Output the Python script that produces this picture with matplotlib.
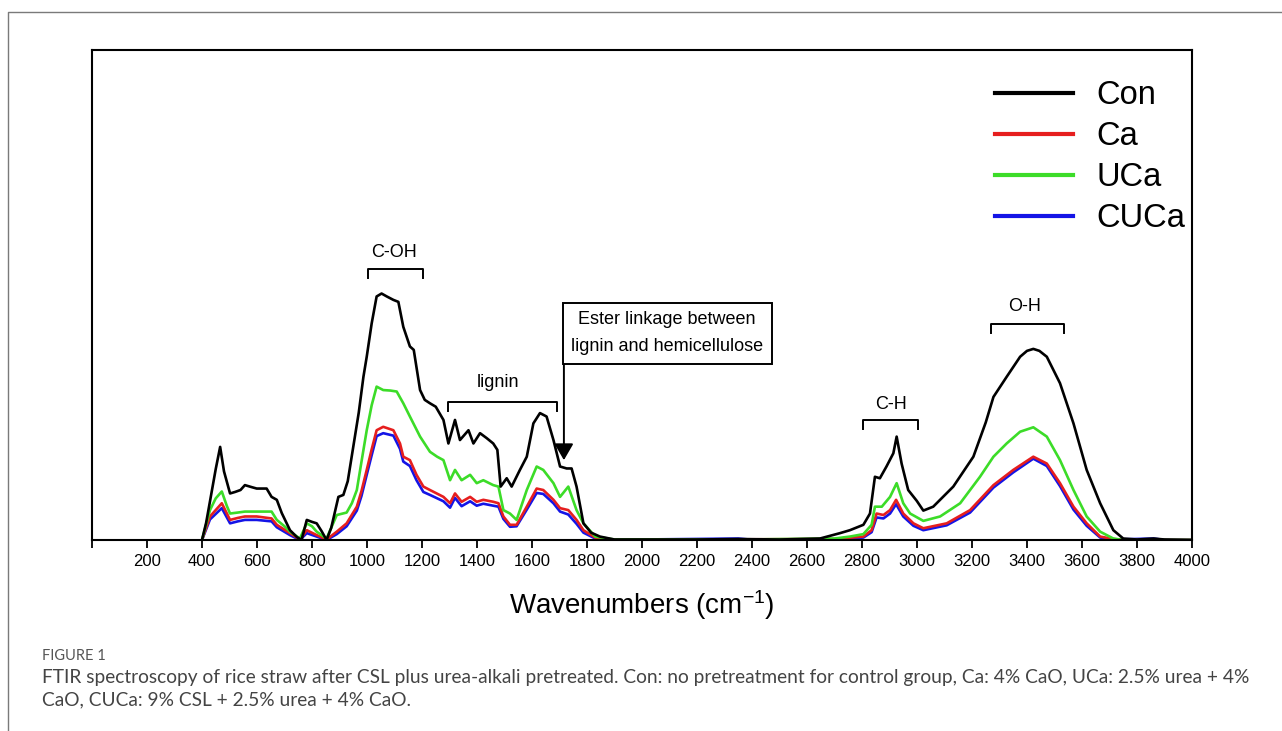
import matplotlib
matplotlib.use('Agg')
import matplotlib.pyplot as plt
from matplotlib.lines import Line2D
from matplotlib.patches import Rectangle

plt.rcParams['font.family'] = ['Liberation Sans', 'DejaVu Sans']
plt.rcParams['mathtext.fontset'] = 'custom'
plt.rcParams['mathtext.rm'] = 'Liberation Sans'
plt.rcParams['mathtext.it'] = 'Liberation Sans:italic'
plt.rcParams['mathtext.bf'] = 'Liberation Sans:bold'

# FTIR spectra (wavenumber, relative absorbance)
con_x = [400, 415, 430, 450, 466, 480, 502, 520, 540, 556, 580, 599, 635, 653, 672, 690, 720, 745, 762,
         781, 800, 817, 835, 853, 870, 896, 914, 930, 950, 970, 987, 999, 1017, 1035, 1053, 1072, 1096,
         1114, 1132, 1156, 1170, 1193, 1210, 1229, 1250, 1278, 1296, 1320, 1338, 1369, 1387, 1411, 1435,
         1459, 1474, 1486, 1508, 1526, 1556, 1581, 1605, 1629, 1653, 1678, 1702, 1726, 1744, 1762, 1787,
         1815, 1847, 1900, 2000, 2200, 2350, 2500, 2647, 2720, 2756, 2805, 2829, 2847, 2865, 2889, 2914,
         2926, 2944, 2968, 2999, 3023, 3059, 3132, 3205, 3250, 3278, 3326, 3375, 3400, 3423, 3445, 3472,
         3520, 3569, 3617, 3666, 3714, 3750, 3800, 3860, 3900, 4000]
con_y = [0, 3.5, 8.2, 14.5, 19.0, 14.0, 9.5, 9.8, 10.2, 11.2, 10.8, 10.5, 10.5, 8.8, 8.2, 5.5, 2.0, 0.6, 0.0,
         4.1, 3.7, 3.4, 1.8, 0.0, 2.5, 8.8, 9.2, 12.0, 19.0, 26.0, 33.3, 37.4, 44.2, 49.7, 50.3, 49.7, 49.0,
         48.6, 43.5, 39.5, 38.8, 30.6, 28.6, 27.9, 27.2, 24.5, 19.7, 24.5, 20.4, 22.4, 19.7, 21.8, 20.8,
         19.7, 18.4, 10.9, 12.6, 10.9, 14.3, 17.0, 23.8, 25.9, 25.2, 20.4, 15.0, 14.6, 14.6, 10.9, 3.4,
         1.5, 0.7, 0.1, 0.1, 0.1, 0.2, 0.1, 0.3, 1.4, 2.0, 3.1, 5.4, 12.9, 12.6, 15.0, 17.7,
         21.1, 15.6, 10.2, 8.0, 6.0, 6.8, 10.9, 17.0, 24.0, 29.2, 33.3, 37.4, 38.6, 39.0, 38.6, 37.4,
         32.0, 23.8, 14.3, 7.5, 2.0, 0.3, 0.1, 0.3, 0.1, 0.0]

uca_x = [400, 429, 450, 472, 490, 502, 530, 556, 599, 653, 672, 700, 720, 756, 781, 800, 817, 853, 870,
         890, 926, 945, 963, 980, 999, 1017, 1035, 1059, 1085, 1108, 1132, 1156, 1193, 1229, 1255, 1278,
         1302, 1320, 1344, 1375, 1399, 1423, 1459, 1478, 1496, 1520, 1544, 1581, 1617, 1641, 1678, 1702,
         1732, 1762, 1787, 1830, 1900, 2350, 2700, 2756, 2805, 2835, 2847, 2872, 2902, 2926, 2950, 2975,
         3023, 3084, 3157, 3229, 3278, 3326, 3375, 3423, 3472, 3520, 3569, 3617, 3666, 3714, 3750, 4000]
uca_y = [0, 6.1, 8.5, 9.9, 7.0, 5.4, 5.6, 5.8, 5.8, 5.8, 4.1, 2.8, 1.7, 0.3, 3.4, 2.8, 1.7, 0.3, 2.5,
         5.1, 5.6, 7.5, 10.2, 16.0, 22.4, 27.5, 31.3, 30.6, 30.5, 30.3, 27.9, 25.2, 21.1, 18.0, 17.0, 16.3,
         12.2, 14.3, 12.2, 13.3, 11.6, 12.2, 11.2, 10.9, 6.1, 5.4, 4.1, 10.2, 15.0, 14.3, 11.6, 8.8,
         10.9, 6.1, 3.4, 0.7, 0.1, 0.1, 0.3, 0.7, 1.2, 3.1, 6.8, 6.8, 8.8, 11.6, 7.5, 5.4,
         3.9, 4.8, 7.5, 12.9, 17.0, 19.7, 22.1, 23.0, 21.1, 16.3, 10.2, 4.8, 1.7, 0.3, 0.0, 0.0]

ca_x = [400, 429, 472, 502, 530, 556, 599, 653, 672, 720, 756, 781, 817, 853, 890, 926, 963, 980, 999,
        1017, 1035, 1059, 1096, 1120, 1132, 1156, 1180, 1205, 1229, 1278, 1302, 1320, 1344, 1375, 1399,
        1423, 1459, 1478, 1496, 1520, 1544, 1581, 1617, 1641, 1678, 1702, 1732, 1762, 1787, 1830, 1900,
        2700, 2805, 2835, 2853, 2878, 2902, 2924, 2950, 2987, 3023, 3108, 3193, 3278, 3350, 3423, 3472,
        3520, 3569, 3617, 3666, 3714, 3760, 4000]
ca_y = [0, 4.8, 7.5, 4.1, 4.5, 4.8, 4.8, 4.4, 3.1, 1.4, 0.1, 2.0, 1.0, 0.1, 1.7, 3.4, 6.8, 10.0, 14.3,
        18.5, 22.4, 23.1, 22.4, 19.7, 17.0, 16.3, 13.3, 10.9, 10.2, 8.8, 7.5, 9.5, 7.8, 8.8, 7.8,
        8.2, 7.8, 7.5, 4.8, 3.1, 3.1, 6.8, 10.5, 10.2, 8.2, 6.5, 6.1, 4.1, 2.0, 0.5, 0.05,
        0.2, 0.7, 2.0, 5.4, 5.1, 6.1, 8.2, 5.4, 3.4, 2.4, 3.4, 6.1, 11.2, 14.3, 17.0, 15.6,
        11.6, 6.8, 3.4, 0.7, 0.2, 0.0, 0.0]

cuca_x = [400, 429, 472, 502, 530, 556, 599, 653, 672, 720, 756, 781, 817, 853, 890, 926, 963, 980, 999,
          1017, 1035, 1059, 1096, 1120, 1132, 1156, 1180, 1205, 1229, 1278, 1302, 1320, 1344, 1375, 1399,
          1423, 1459, 1478, 1496, 1520, 1544, 1581, 1617, 1641, 1678, 1702, 1732, 1762, 1787, 1830, 1900,
          2350, 2400, 2700, 2805, 2835, 2853, 2878, 2902, 2924, 2950, 2987, 3023, 3108, 3193, 3278, 3350,
          3423, 3472, 3520, 3569, 3617, 3666, 3714, 3860, 3900, 4000]
cuca_y = [0, 4.2, 6.5, 3.4, 3.8, 4.1, 4.1, 3.8, 2.6, 1.0, 0.0, 1.4, 0.7, 0.0, 1.2, 2.8, 6.0, 9.0, 13.3,
          17.3, 21.2, 21.8, 21.3, 18.6, 16.0, 15.1, 12.2, 9.8, 9.2, 7.9, 6.6, 8.6, 6.9, 7.9, 7.0,
          7.4, 7.0, 6.8, 4.3, 2.7, 2.8, 6.2, 9.6, 9.4, 7.5, 5.8, 5.2, 3.3, 1.5, 0.3, 0.05,
          0.3, 0.05, 0.1, 0.5, 1.6, 4.6, 4.4, 5.4, 7.3, 4.8, 2.9, 2.0, 3.0, 5.6, 10.7, 13.8,
          16.6, 15.1, 11.0, 6.2, 2.9, 0.5, 0.1, 0.3, 0.0, 0.0]

xticks = list(range(0, 4001, 200))
xtick_labels = [''] + [str(t) for t in xticks[1:]]

fig = plt.figure(figsize=(12.82, 7.31), dpi=100)
ax = fig.add_axes([92 / 1282, 1 - 540 / 731, 1100 / 1282, 490 / 731])

lw = 1.9
ax.plot(cuca_x, cuca_y, color='#1414e6', lw=lw)
ax.plot(ca_x, ca_y, color='#e61e1e', lw=lw)
ax.plot(uca_x, uca_y, color='#3cdc28', lw=lw)
ax.plot(con_x, con_y, color='black', lw=lw)

ax.set_xlim(0, 4000)
ax.set_ylim(0, 100)
ax.set_yticks([])
ax.set_xticks(xticks)
ax.set_xticklabels(xtick_labels, fontsize=12)
ax.tick_params(axis='x', direction='out', length=6, width=1.3, pad=4)
for s in ax.spines.values():
    s.set_linewidth(1.5)
ax.set_xlabel('Wavenumbers (cm$^{-1}$)', fontsize=20, labelpad=14)

# legend
handles = [Line2D([], [], color='black', lw=3),
           Line2D([], [], color='#e61e1e', lw=3),
           Line2D([], [], color='#3cdc28', lw=3),
           Line2D([], [], color='#1414e6', lw=3)]
fig.legend(handles, ['Con', 'Ca', 'UCa', 'CUCa'], loc='upper left',
           bbox_to_anchor=(995 / 1282, 1 - 80 / 731), frameon=False, fontsize=23.5,
           handlelength=2.4, handletextpad=0.7, labelspacing=0.31, borderpad=0, borderaxespad=0)

# band brackets
def bracket(x0, x1, y, label, tx, ty):
    ax.plot([x0, x0, x1, x1], [y - 1.8, y, y, y - 1.8], color='black', lw=1.4)
    ax.text(tx, ty, label, ha='center', va='center', fontsize=13)

bracket(1002, 1205, 55.3, 'C-OH', 1100, 58.7)
bracket(1296, 1690, 28.2, 'lignin', 1478, 32.1)
bracket(2805, 3005, 24.5, 'C-H', 2905, 27.6)
bracket(3269, 3535, 44.1, 'O-H', 3390, 47.6)

# ester annotation box
ax.add_patch(Rectangle((1713, 35.9), 2474 - 1713, 48.4 - 35.9, fill=False, lw=1.4, edgecolor='black'))
ax.text(2090, 45.0, 'Ester linkage between', ha='center', va='center', fontsize=13)
ax.text(2090, 39.4, 'lignin and hemicellulose', ha='center', va='center', fontsize=13)
ax.annotate('', xy=(1716, 16.3), xytext=(1716, 35.9),
            arrowprops=dict(arrowstyle='-|>,head_width=0.58,head_length=1.0', mutation_scale=10,
                            lw=1.4, color='black', shrinkA=0, shrinkB=0))

# outer frame and caption
fig.add_artist(Line2D([8 / 1282, 8 / 1282, 1], [0, 1 - 12 / 731, 1 - 12 / 731],
                      color='#7a7a7a', lw=1))
fig.text(42 / 1282, 1 - 656 / 731, 'FIGURE 1', fontsize=10.5, color='#555555', va='center',
         family=['Lato', 'DejaVu Sans'])
fig.text(42 / 1282, 1 - 678 / 731,
         'FTIR spectroscopy of rice straw after CSL plus urea-alkali pretreated. Con: no pretreatment for '
         'control group, Ca: 4% CaO, UCa: 2.5% urea + 4%',
         fontsize=13.8, color='#444444', va='center', family=['Lato', 'DejaVu Sans'])
fig.text(42 / 1282, 1 - 700 / 731, 'CaO, CUCa: 9% CSL + 2.5% urea + 4% CaO.',
         fontsize=13.8, color='#444444', va='center', family=['Lato', 'DejaVu Sans'])

fig.savefig('out.png', dpi=100)
